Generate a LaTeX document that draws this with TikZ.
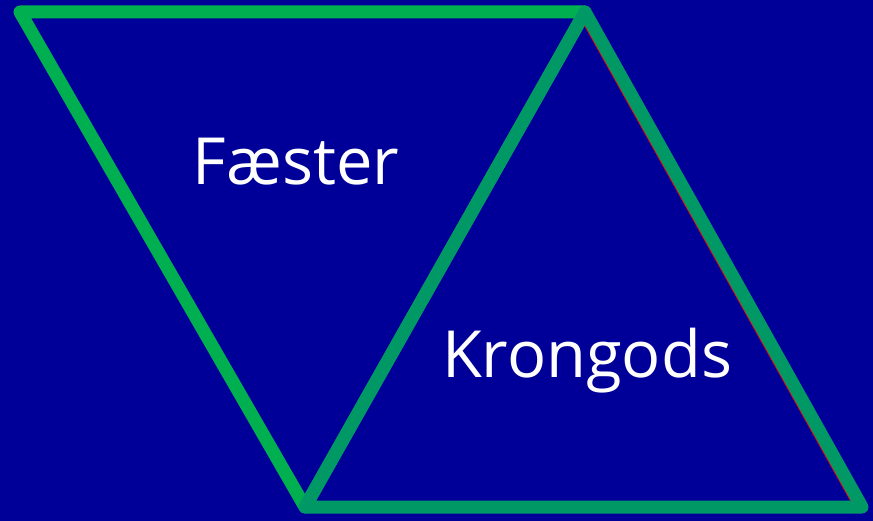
\documentclass[tikz,border=0pt]{standalone}
\usepackage{fontspec}
\setmainfont{Open Sans}
\definecolor{bgblue}{RGB}{0,0,153}
\definecolor{leftgreen}{RGB}{0,176,80}
\definecolor{tealgreen}{RGB}{0,153,102}
\tikzset{
  edgeline/.style={line width=13pt, line join=round, line cap=round},
  label/.style={text=white, font=\fontsize{65}{75}\selectfont, inner sep=0pt}
}
\begin{document}
\begin{tikzpicture}[x=1pt,y=-1pt]
        \fill[bgblue] (0,0) rectangle (873,521);
        \useasboundingbox (0,0) rectangle (873,521);

        \coordinate (tl) at (20,12);
        \coordinate (tr) at (585,12);
        \coordinate (bl) at (305,507);
        \coordinate (br) at (862,507);
        % red rim along the inner side of the right edge
        \coordinate (ra) at (579.3,15.2);
        \coordinate (rb) at (856.3,510.2);

        \node[label] (faester) at (296,162) {Fæster};
        \node[label] (krongods) at (587,361) {Krongods};

        \draw[edgeline, leftgreen] (tl) -- (tr) -- (bl) -- cycle;
        \draw[red, line width=1.6pt] (ra) -- (rb);
        \draw[edgeline, tealgreen] (tr) -- (br) -- (bl) -- cycle;
      \end{tikzpicture}
\end{document}
